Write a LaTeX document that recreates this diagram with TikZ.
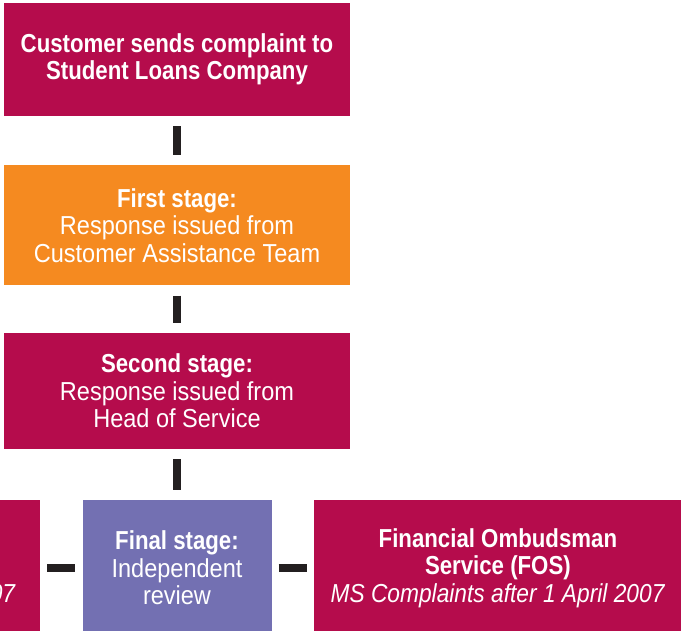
\documentclass[tikz,border=0pt]{standalone}
\usepackage{fontspec}
\setmainfont{Liberation Sans}[
  UprightFeatures={FakeStretch=0.905},
  BoldFeatures={FakeStretch=0.855},
  ItalicFeatures={FakeStretch=0.875}]
\usetikzlibrary{positioning}
\definecolor{slcred}{RGB}{181,12,76}
\definecolor{slcorange}{RGB}{245,138,32}
\definecolor{slcpurple}{RGB}{115,112,178}
\definecolor{slcbar}{RGB}{35,31,32}

\begin{document}
\begin{tikzpicture}[x=1pt,y=1pt]
\tikzstyle{stage} = [rectangle, minimum width=346pt, minimum height=116pt, inner sep=0pt, text=white, align=center, font=\fontsize{26}{27.5}\selectfont, fill=slcred]
\tikzstyle{note} = [inner sep=0pt, text=white, font=\fontsize{26}{27.5}\selectfont\itshape]
\tikzstyle{link} = [line width=8pt, draw=slcbar, shorten <=10pt, shorten >=10pt]
\tikzstyle{sidelink} = [line width=8pt, draw=slcbar, shorten <=7pt, shorten >=7pt]

\useasboundingbox (0,0) rectangle (681,-631);
\clip (0,0) rectangle (681,-631);

\node (complaint) [stage, minimum height=113pt] at (177,-59.5) {\textbf{Customer sends complaint to}\\\textbf{Student Loans Company}};
\node (first) [stage, fill=slcorange, minimum height=120pt, below=49pt of complaint] {\textbf{First stage:}\\Response issued from\\Customer Assistance Team};
\node (second) [stage, below=47pt of first] {\textbf{Second stage:}\\Response issued from\\Head of Service};
\node (final) [stage, fill=slcpurple, minimum width=189pt, minimum height=136pt, below=51pt of second] {\textbf{Final stage:}\\Independent\\review};

\node (fos) [stage, minimum width=368pt, minimum height=136pt, right=42pt of final] {\textbf{Financial Ombudsman}\\\textbf{Service (FOS)}\\\textit{MS Complaints after 1 April 2007}};
\node (other) [stage, minimum width=200pt, minimum height=136pt, left=42pt of final] {};
\node (otherdate) [note, anchor=base east] at ([xshift=-25pt]other.east |- 0,-602) {07};

\draw [link] (complaint) -- (first);
\draw [link] (first) -- (second);
\draw [link] (second) -- (final);
\draw [sidelink] (other) -- (final);
\draw [sidelink] (final) -- (fos);

\end{tikzpicture}
\end{document}
